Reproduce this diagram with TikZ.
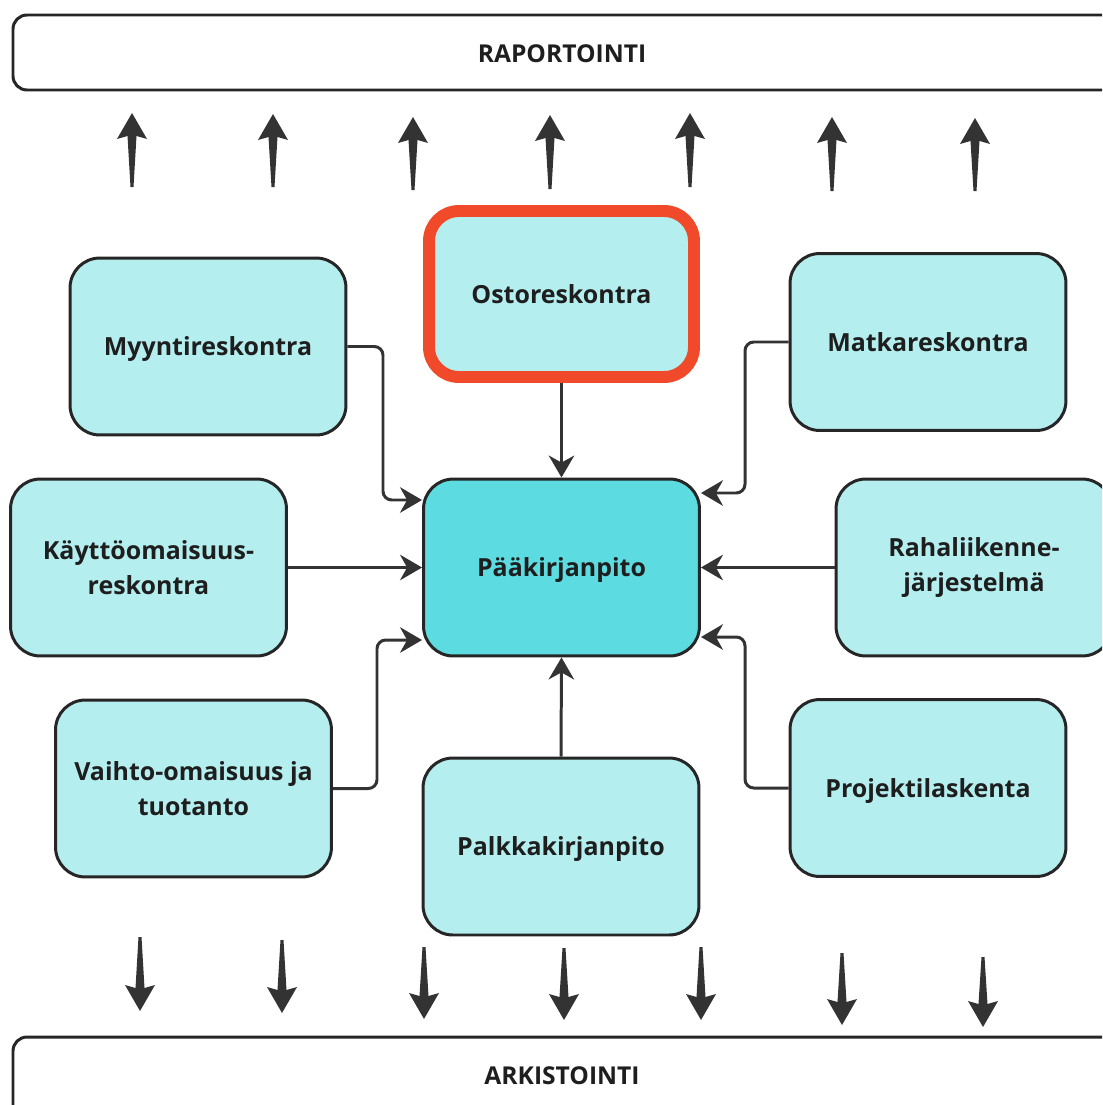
\documentclass[tikz,border=0pt]{standalone}
\usepackage{fontspec}
\setmainfont{Open Sans}
\usetikzlibrary{arrows.meta}
\definecolor{lightc}{HTML}{B5EEEF}
\definecolor{mainc}{HTML}{5CDCE0}
\definecolor{redc}{HTML}{F04A2A}
\definecolor{linec}{HTML}{262626}
\definecolor{arrc}{HTML}{333333}
\definecolor{txtc}{HTML}{1E1E1E}
\tikzset{
 box/.style={draw=linec, line width=1.7pt, fill=lightc, rounded corners=17pt,
   minimum width=5.52cm, minimum height=3.54cm, align=center,
   font=\fontsize{14.2}{19.8}\selectfont\bfseries, text=txtc, inner sep=0pt},
 onebox/.style={box, text depth=0pt},
 conn/.style={draw=arrc, line width=1.7pt, rounded corners=5pt,
   -{Stealth[length=12.5pt,width=14.5pt,inset=4pt]}},
 bigarr/.style={fill=arrc},
 bar/.style={draw=linec, line width=1.7pt, rounded corners=8pt, fill=white},
 bartext/.style={font=\fontsize{14}{18}\selectfont\bfseries, text=txtc},
}
\newcommand\bigup[3]{\fill[bigarr] (#1,#2) -- (#1+15,#2+26) -- (#1+4.5,#2+23) -- (#1+1.5,#3) -- (#1-1.5,#3) -- (#1-4.5,#2+23) -- (#1-15,#2+26) -- cycle;}
\newcommand\bigdown[3]{\fill[bigarr] (#1,#2) -- (#1+15,#2-26) -- (#1+4.5,#2-23) -- (#1+1.5,#3) -- (#1-1.5,#3) -- (#1-4.5,#2-23) -- (#1-15,#2-26) -- cycle;}
\begin{document}
\begin{tikzpicture}[x=0.02cm,y=-0.02cm]
\useasboundingbox (0,0) rectangle (1102,1105);
\clip (0,0) rectangle (1102,1105);
\fill[white] (0,0) rectangle (1102,1105);
% bars
\draw[bar] (13,15) rectangle (1140,90);
\node[bartext] (rap) at (562,54) {RAPORTOINTI};
\draw[bar] (13,1037) rectangle (1140,1140);
\node[bartext] (ark) at (562,1076) {ARKISTOINTI};
% big arrows up
\bigup{132}{113}{187}
\bigup{273}{114}{187}
\bigup{413}{117}{190}
\bigup{550}{115}{189}
\bigup{690}{113}{187}
\bigup{832}{117}{191}
\bigup{975}{118}{191}
% big arrows down
\bigdown{140}{1011}{937}
\bigdown{282}{1013}{940}
\bigdown{424}{1019}{947}
\bigdown{564}{1020}{948}
\bigdown{701}{1020}{947}
\bigdown{842}{1025}{953}
\bigdown{983}{1027}{957}
% boxes
\node[onebox] (myy) at (208,346.5) {Myyntireskontra};
\node[onebox, draw=redc, line width=6.8pt, minimum width=5.3cm, minimum height=3.32cm] (osto) at (561.5,294) {Ostoreskontra};
\node[onebox] (mat) at (928,342) {Matkareskontra};
\node[box] (kay) at (148.5,567.5) {Käyttöomaisuus-\\reskontra};
\node[onebox, fill=mainc] (paa) at (561.5,567.5) {Pääkirjanpito};
\node[box] (raha) at (974,567.5) {Rahaliikenne-\\järjestelmä};
\node[box] (vai) at (193.5,788.5) {Vaihto-omaisuus ja\\tuotanto};
\node[onebox] (pal) at (561,846.5) {Palkkakirjanpito};
\node[onebox] (pro) at (928,788) {Projektilaskenta};
% connector bends
\coordinate (b1) at (383,500);
\coordinate (b2) at (745,493);
\coordinate (b3) at (377,640);
\coordinate (b4) at (745,637);
% connectors
\draw[conn] (myy.east) -| (b1) -- (b1 -| paa.west);
\draw[conn] (osto.south) -- (paa.north);
\draw[conn] (mat.west) -| (b2) -- (b2 -| paa.east);
\draw[conn] (kay.east) -- (kay.east -| paa.west);
\draw[conn] (raha.west) -- (raha.west -| paa.east);
\draw[conn] (vai.east) -| (b3) -- (b3 -| paa.west);
\draw[conn] (pal.north) -- (paa.south);
\draw[conn] (pro.west) -| (b4) -- (b4 -| paa.east);
\end{tikzpicture}
\end{document}
